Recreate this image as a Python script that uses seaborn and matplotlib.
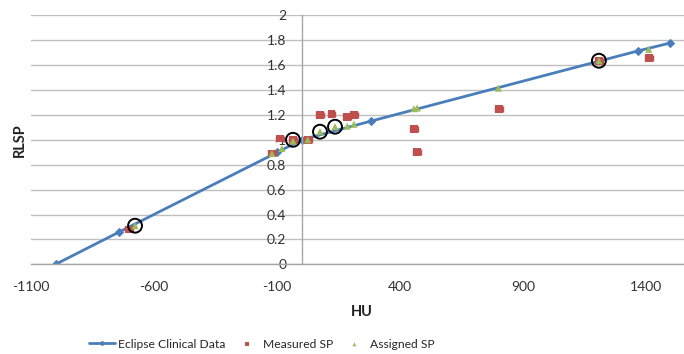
import numpy as np
import matplotlib
matplotlib.use("Agg")
import matplotlib.pyplot as plt
import seaborn as sns

# ---- data ----
eclipse_hu = [-1000, -741, -98, 0, 282, 1366, 1500]
eclipse_sp = [0.0, 0.26, 0.90, 1.0, 1.15, 1.713, 1.778]

measured_hu = [-700, -120, -88, -35, 25, 75, 122, 186, 215, 457, 470, 802, 1209, 1412]
measured_sp = [0.28, 0.89, 1.01, 1.0, 1.0, 1.20, 1.21, 1.18, 1.20, 1.09, 0.90, 1.25, 1.635, 1.655]

assigned_hu = [-677, -120, -80, -35, 25, 75, 136, 186, 213, 457, 470, 800, 1209, 1412]
assigned_sp = [0.31, 0.89, 0.93, 0.99, 1.0, 1.065, 1.105, 1.11, 1.125, 1.25, 1.255, 1.415, 1.635, 1.727]

circled_hu = [-677, -35, 75, 136, 1209]
circled_sp = [0.31, 1.0, 1.065, 1.105, 1.635]

x_ticks = [-1100, -600, -100, 400, 900, 1400]
y_ticks = [0, 0.2, 0.4, 0.6, 0.8, 1.0, 1.2, 1.4, 1.6, 1.8, 2.0]
y_tick_labels = ["0", "0.2", "0.4", "0.6", "0.8", "1", "1.2", "1.4", "1.6", "1.8", "2"]

# ---- style ----
sns.set_style("white")
plt.rcParams["font.family"] = ["Lato", "DejaVu Sans"]
plt.rcParams["font.size"] = 10
plt.rcParams["axes.unicode_minus"] = False

blue = "#4A7EBB"
red = "#C0504D"
green = "#9BBB59"
grid_c = "#BFBFBF"
axis_c = "#A6A6A6"

fig = plt.figure(figsize=(6.84, 3.54), dpi=100)
ax = fig.add_axes([31 / 684, 89.7 / 354, 653 / 684, 249 / 354])

sns.lineplot(x=eclipse_hu, y=eclipse_sp, ax=ax, color=blue, linewidth=2,
             marker="D", markersize=4, markeredgecolor=blue, sort=False,
             label="Eclipse Clinical Data", zorder=2)
ax.errorbar(measured_hu, measured_sp, xerr=16, fmt="none", ecolor=red,
            elinewidth=1, capsize=2.5, capthick=1, zorder=3)
sns.scatterplot(x=measured_hu, y=measured_sp, ax=ax, marker="s", s=32,
                color=red, edgecolor="none", label="Measured SP", zorder=3)
sns.scatterplot(x=assigned_hu, y=assigned_sp, ax=ax, marker="^", s=26,
                color=green, edgecolor="none", label="Assigned SP", zorder=4)
sns.scatterplot(x=circled_hu, y=circled_sp, ax=ax, marker="o", s=100,
                facecolor="none", edgecolor="black", linewidth=1.4, zorder=5)

ax.set_xlim(-1100, 1555)
ax.set_ylim(0, 2)
ax.set_xticks(x_ticks)
ax.set_yticks(y_ticks)
ax.set_yticklabels(y_tick_labels)
ax.set_xlabel("")
ax.set_ylabel("")

ax.yaxis.grid(True, color=grid_c, linewidth=1)
ax.xaxis.grid(False)
ax.set_axisbelow(True)

for s in ["top", "right"]:
    ax.spines[s].set_visible(False)
ax.spines["left"].set_position(("data", 0))
ax.spines["left"].set_color(axis_c)
ax.spines["bottom"].set_color(axis_c)
ax.spines["left"].set_linewidth(1)
ax.spines["bottom"].set_linewidth(1)

ax.tick_params(axis="y", length=0, pad=11, labelsize=10, labelcolor="#333333")
ax.tick_params(axis="x", length=5, direction="out", color=axis_c, width=1,
               pad=7, labelsize=10, labelcolor="#333333")

fig.text(362 / 684, 1 - 312 / 354, "HU", ha="center", va="center",
         fontweight="bold", fontsize=10.5, color="#222222")
fig.text(20 / 684, 1 - 140 / 354, "RLSP", ha="center", va="center",
         rotation=90, fontweight="bold", fontsize=10.5, color="#222222")

handles, labels = ax.get_legend_handles_labels()
ax.legend(handles, labels, loc="center", bbox_to_anchor=(262 / 684, 1 - 344 / 354),
          bbox_transform=fig.transFigure, ncol=3, frameon=False,
          handlelength=2.15, columnspacing=0.7, handletextpad=0.25,
          markerscale=0.55, fontsize=8.7)

fig.savefig("out.png", dpi=100)
